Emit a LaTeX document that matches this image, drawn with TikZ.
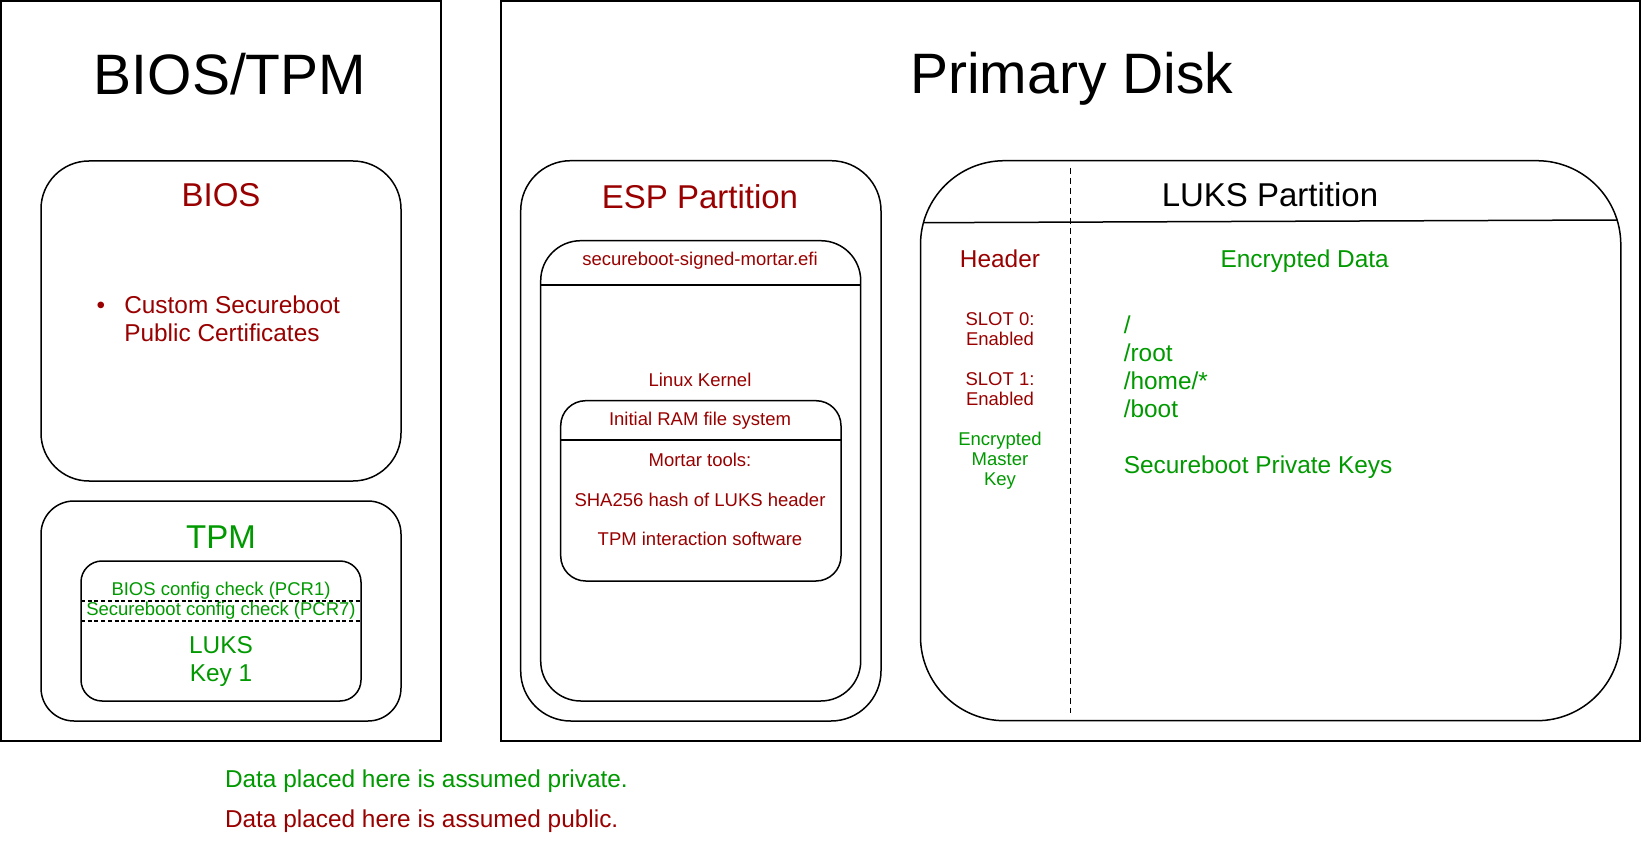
\documentclass[tikz,border=0pt]{standalone}
\usepackage{fontspec}
\setmainfont{Liberation Sans}
\definecolor{pubred}{HTML}{990000}
\definecolor{privgreen}{HTML}{009900}
\newcommand\fTitle{\fontsize{57}{68}\selectfont}
\newcommand\fBox{\fontsize{33}{40}\selectfont}
\newcommand\fMid{\fontsize{24.4}{28}\selectfont}
\newcommand\fSmall{\fontsize{18.5}{20}\selectfont}
\begin{document}
\begin{tikzpicture}[x=1pt,y=-1pt,
  outerbox/.style={draw=black,line width=2pt},
  innerbox/.style={draw=black,line width=1.5pt},
  sepline/.style={draw=black,line width=1.5pt},
  dashline/.style={draw=black,line width=1.7pt,dash pattern=on 4pt off 2.7pt},
  vdashline/.style={draw=black,line width=1.8pt,dash pattern=on 6pt off 4pt},
  txt/.style={anchor=base,inner sep=0pt,outer sep=0pt},
  title/.style={txt,font=\fTitle,text=black},
  boxtitle/.style={txt,font=\fBox},
  midtxt/.style={txt,font=\fMid},
  smalltxt/.style={txt,font=\fSmall},
  pub/.style={text=pubred},
  priv/.style={text=privgreen},
  leftal/.style={anchor=base west}
]
\useasboundingbox (0,0) rectangle (1642,842);
\fill[white] (0,0) rectangle (1642,842);

% outer containers
\draw[outerbox] (1,1) rectangle (440.7,740.7);
\draw[outerbox] (501,1) rectangle (1640,740.7);
\node[title] (biostpm) at (230,95) {BIOS/TPM};
\node[title] (primary) at (1071.7,94) {Primary Disk};

% BIOS box
\draw[innerbox,rounded corners=48pt] (41,161) rectangle (401,481);
\node[boxtitle,pub] (bios) at (221,207) {BIOS};
\node[midtxt,pub] (bullet) at (101,314) {•};
\node[midtxt,pub,leftal] (cust1) at (124.3,314) {Custom Secureboot};
\node[midtxt,pub,leftal] (cust2) at (124.3,342) {Public Certificates};

% TPM box
\draw[innerbox,rounded corners=33pt] (41,501) rectangle (401,721);
\node[boxtitle,priv] (tpm) at (221,548.3) {TPM};
\draw[innerbox,rounded corners=21pt] (81,561) rectangle (361,701);
\coordinate (pcrAl) at (81,601);
\coordinate (pcrAr) at (361,601);
\coordinate (pcrBl) at (81,621);
\coordinate (pcrBr) at (361,621);
\draw[dashline] (pcrAl) -- (pcrAr);
\draw[dashline] (pcrBl) -- (pcrBr);
\node[smalltxt,priv] (pcr1) at (221,595) {BIOS config check (PCR1)};
\node[smalltxt,priv] (pcr7) at (221,615) {Secureboot config check (PCR7)};
\node[midtxt,priv] (luks) at (221,653.3) {LUKS};
\node[midtxt,priv] (key1) at (221,681.7) {Key 1};

% ESP partition
\draw[innerbox,rounded corners=50pt] (520.7,160.7) rectangle (881,721);
\node[boxtitle,pub] (esp) at (700,208.3) {ESP Partition};
\draw[innerbox,rounded corners=40pt] (540.7,240.7) rectangle (860.7,701);
\coordinate (efil) at (540.7,285);
\coordinate (efir) at (860.7,285);
\draw[sepline] (efil) -- (efir);
\node[smalltxt,pub] (efi) at (700,266) {secureboot-signed-mortar.efi};
\node[smalltxt,pub] (kernel) at (700,386) {Linux Kernel};
\draw[innerbox,rounded corners=25pt] (560.7,400.7) rectangle (841,581);
\coordinate (rambl) at (560.7,440);
\coordinate (rambr) at (841,440);
\draw[sepline] (rambl) -- (rambr);
\node[smalltxt,pub] (initram) at (700,425.7) {Initial RAM file system};
\node[smalltxt,pub] (mortar) at (700,466) {Mortar tools:};
\node[smalltxt,pub] (sha) at (700,506) {SHA256 hash of LUKS header};
\node[smalltxt,pub] (tpmsw) at (700,545.7) {TPM interaction software};

% LUKS partition
\draw[innerbox,rounded corners=84pt] (920.5,160.7) rectangle (1620.8,720.7);
\coordinate (lukshl) at (923.4,222.7);
\coordinate (lukshr) at (1617.1,220);
\draw[sepline] (lukshl) -- (lukshr);
\coordinate (vdtop) at (1070.4,168);
\coordinate (vdbot) at (1070.4,713);
\draw[vdashline] (vdtop) -- (vdbot);
\node[boxtitle,text=black] (lukspart) at (1270,206.7) {LUKS Partition};
\node[midtxt,pub] (header) at (1000,267.7) {Header};
\node[midtxt,priv] (encdata) at (1304.7,267.7) {Encrypted Data};
\node[smalltxt,pub] (slot0) at (1000,325.7) {SLOT 0:};
\node[smalltxt,pub] (en0) at (1000,345.7) {Enabled};
\node[smalltxt,pub] (slot1) at (1000,385.7) {SLOT 1:};
\node[smalltxt,pub] (en1) at (1000,405.7) {Enabled};
\node[smalltxt,priv] (mk1) at (1000,445.7) {Encrypted};
\node[smalltxt,priv] (mk2) at (1000,465.7) {Master};
\node[smalltxt,priv] (mk3) at (1000,485.7) {Key};
\node[midtxt,priv,leftal] (d1) at (1123.8,333.7) {/};
\node[midtxt,priv,leftal] (d2) at (1123.8,361.7) {/root};
\node[midtxt,priv,leftal] (d3) at (1123.8,389.3) {/home/*};
\node[midtxt,priv,leftal] (d4) at (1123.8,417.3) {/boot};
\node[midtxt,priv,leftal] (d5) at (1123.8,473.3) {Secureboot Private Keys};

% legend
\node[midtxt,priv,leftal] (legpriv) at (225,787.3) {Data placed here is assumed private.};
\node[midtxt,pub,leftal] (legpub) at (225,827.7) {Data placed here is assumed public.};
\end{tikzpicture}
\end{document}
